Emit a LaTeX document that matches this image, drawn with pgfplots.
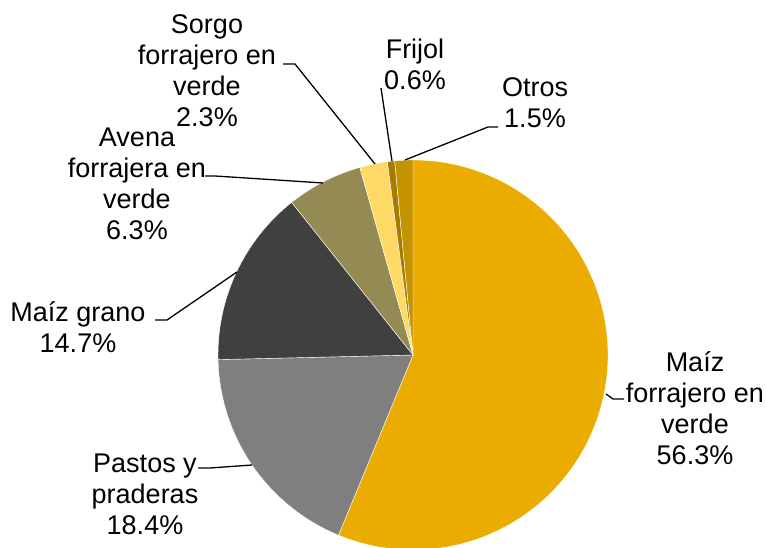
\documentclass[border=0pt]{standalone}
\usepackage{pgfplots}
\pgfplotsset{compat=1.18}
\usepackage{fontspec}
\setmainfont{Liberation Sans}
\definecolor{cMF}{HTML}{EAAC00}
\definecolor{cPP}{HTML}{7F7F7F}
\definecolor{cMG}{HTML}{404040}
\definecolor{cAV}{HTML}{948A54}
\definecolor{cSO}{HTML}{FFD966}
\definecolor{cFR}{HTML}{A67C00}
\definecolor{cOT}{HTML}{C39400}
% slice values (percent), clockwise from 12 o'clock
\def\slicelist{56.3/cMF,18.4/cPP,14.7/cMG,6.3/cAV,2.3/cSO,0.6/cFR,1.5/cOT}
\begin{document}
\begin{tikzpicture}
\begin{axis}[x=1pt,y=1pt,xmin=0,xmax=766,ymin=0,ymax=548,hide axis,
  scale only axis, clip=true]
\addplot[draw=none] coordinates {(0,0) (766,548)};
\gdef\cum{90}
\foreach \v/\c in \slicelist {
  \pgfmathsetmacro\a{\cum}
  \pgfmathsetmacro\b{\cum-\v*3.5964}
  \pgfmathsetmacro\px{413+195*cos(\a)}
  \pgfmathsetmacro\py{193+195*sin(\a)}
  \edef\tmp{\noexpand\fill[\c, draw=white, line width=0.4pt] (axis cs:413,193) -- (axis cs:\px,\py) arc[start angle=\a, end angle=\b, radius=195] -- cycle;}
  \tmp
  \global\let\cum\b
}
\begin{scope}[every node/.style={align=center, font=\fontsize{27}{31}\selectfont, inner sep=0pt}]
\draw[line width=1.3pt] (axis cs:283,484) -- (axis cs:295,484) -- (axis cs:375,384);
\draw[line width=1.3pt] (axis cs:381,460) -- (axis cs:392,387);
\draw[line width=1.3pt] (axis cs:498,421) -- (axis cs:488,421) -- (axis cs:405,388);
\draw[line width=1.3pt] (axis cs:205,372) -- (axis cs:215,372) -- (axis cs:323,365);
\draw[line width=1.3pt] (axis cs:155,228) -- (axis cs:167,228) -- (axis cs:237,276);
\draw[line width=1.3pt] (axis cs:198,80) -- (axis cs:210,80) -- (axis cs:252,83);
\draw[line width=1.3pt] (axis cs:606,154) -- (axis cs:613,149) -- (axis cs:624,149);
\node at (axis cs:207,477) {Sorgo\\forrajero en\\verde\\2.3\%};
\node at (axis cs:415,484) {Frijol\\0.6\%};
\node at (axis cs:535,445) {Otros\\1.5\%};
\node at (axis cs:137,364) {Avena\\forrajera en\\verde\\6.3\%};
\node at (axis cs:78,221) {Maíz grano\\14.7\%};
\node at (axis cs:145,54) {Pastos y\\praderas\\18.4\%};
\node at (axis cs:695,140) {Maíz\\forrajero en\\verde\\56.3\%};
\end{scope}
\end{axis}
\end{tikzpicture}
\end{document}
